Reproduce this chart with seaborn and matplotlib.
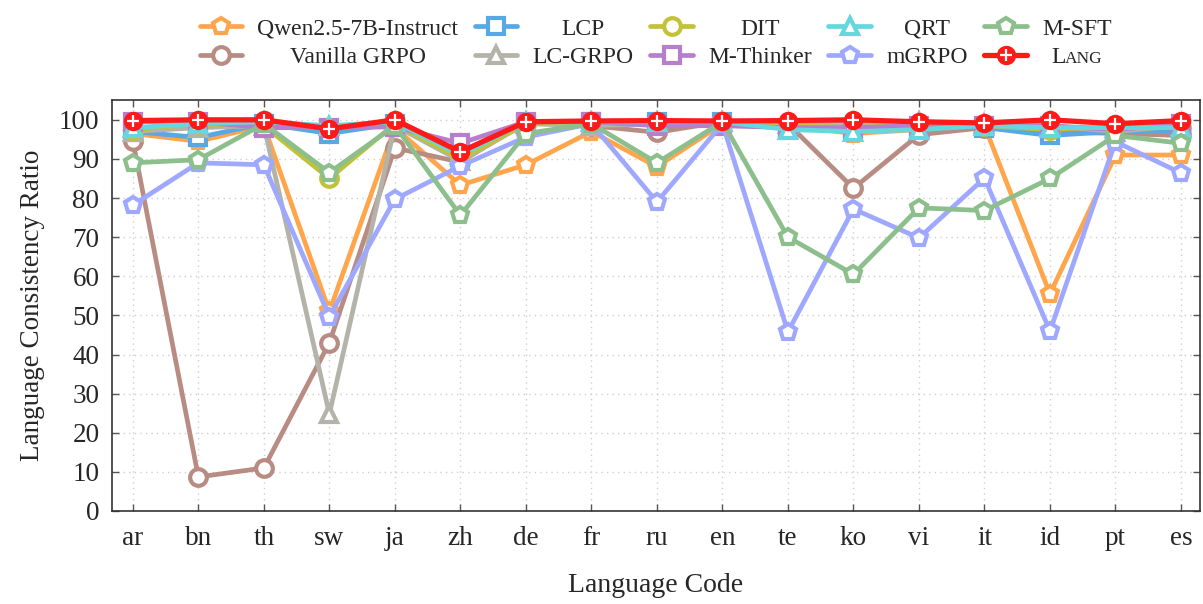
import numpy as np
import pandas as pd
import seaborn as sns
import matplotlib
matplotlib.use("Agg")
import matplotlib.pyplot as plt
from matplotlib.legend_handler import HandlerTuple

languages = ["ar", "bn", "th", "sw", "ja", "zh", "de", "fr", "ru", "en", "te", "ko", "vi", "it", "id", "pt", "es"]

qwen = [96.5, 94.5, 98.5, 51.0, 98.0, 83.3, 88.5, 97.0, 88.0, 99.0, 98.5, 96.5, 97.5, 98.5, 55.5, 91.0, 91.0]
vanilla_grpo = [94.6, 8.7, 11.0, 43.0, 92.8, 89.2, 99.5, 98.5, 96.8, 99.5, 99.0, 82.5, 96.2, 98.0, 97.0, 96.5, 96.0]
lcp = [97.0, 95.5, 99.0, 96.5, 99.0, 90.5, 99.0, 99.5, 99.5, 99.5, 98.0, 97.5, 98.0, 98.0, 96.0, 97.0, 97.0]
lc_grpo = [97.0, 98.0, 98.5, 24.8, 98.5, 89.5, 99.0, 98.5, 99.0, 99.5, 99.0, 99.0, 99.5, 99.0, 98.5, 97.0, 98.5]
dit = [97.5, 99.0, 98.5, 85.0, 99.0, 90.0, 99.0, 99.5, 99.0, 99.5, 98.5, 98.0, 99.0, 98.5, 97.5, 98.5, 98.0]
m_thinker = [99.5, 99.5, 98.0, 98.0, 98.2, 94.0, 99.5, 99.5, 98.5, 98.5, 98.0, 98.0, 98.5, 98.5, 98.5, 97.5, 99.0]
qrt = [98.0, 99.0, 99.5, 98.5, 99.5, 91.0, 99.5, 99.5, 99.5, 99.5, 97.5, 97.0, 97.5, 98.5, 98.0, 98.0, 98.0]
mgrpo = [78.2, 89.0, 88.5, 49.7, 79.7, 88.2, 95.6, 99.0, 79.0, 99.0, 45.8, 77.2, 69.8, 85.1, 46.0, 94.4, 86.4]
m_sft = [89.0, 89.8, 99.0, 86.5, 98.5, 75.6, 96.5, 99.0, 89.0, 99.5, 70.0, 60.5, 77.5, 76.8, 85.0, 96.0, 94.0]
lang = [99.8, 100.0, 100.0, 97.7, 100.0, 91.8, 99.5, 99.7, 99.8, 99.7, 99.8, 100.0, 99.5, 99.2, 100.0, 99.0, 99.8]

series_names = ["Qwen2.5-7B-Instruct", "Vanilla GRPO", "LCP", "LC-GRPO", "DIT",
                "M-Thinker", "QRT", "mGRPO", "M-SFT", "LANG"]
series_values = [qwen, vanilla_grpo, lcp, lc_grpo, dit, m_thinker, qrt, mgrpo, m_sft, lang]
colors = ["#ffa64d", "#b88c82", "#59a8e6", "#b3b3aa", "#c2c23a",
          "#b57fcc", "#66d6df", "#9fa8ff", "#8cbf8c", "#ff1a1a"]
markers = ["p", "o", "s", "^", "o", "s", "^", "p", "p", "o"]

sns.set_theme(style="ticks")
plt.rcParams["font.family"] = ["Liberation Serif", "DejaVu Serif"]

fig = plt.figure(figsize=(12.03, 6.04), dpi=100)
ax = fig.add_axes([0.093, 0.154, 0.9045, 0.68])

handles = []
for name, vals, col, mk in zip(series_names, series_values, colors, markers):
    df = pd.DataFrame({"lang": languages, "val": vals})
    if name == "LANG":
        sns.lineplot(data=df, x="lang", y="val", sort=False, ax=ax, color=col,
                     lw=3.8, marker="o", ms=14, mfc=col, mec=col, mew=0,
                     zorder=10, legend=False)
        l1 = ax.lines[-1]
        sns.lineplot(data=df, x="lang", y="val", sort=False, ax=ax, color="white",
                     lw=0, marker="+", ms=8.5, mew=1.6, zorder=11, legend=False)
        l2 = ax.lines[-1]
        handles.append((l1, l2))
    else:
        sns.lineplot(data=df, x="lang", y="val", sort=False, ax=ax, color=col,
                     lw=3.4, marker=mk, ms=12, mfc="white",
                     mec=col, mew=3.0, legend=False)
        handles.append(ax.lines[-1])

ax.set_xlim(-0.32, 16.29)
ax.set_ylim(0, 105)
ax.set_yticks(np.arange(0, 101, 10))
ax.grid(True, color="#cfcfcf", linestyle=(0, (1, 3)), linewidth=1.0)
ax.set_axisbelow(True)
ax.tick_params(axis="both", direction="in", length=5, width=1, color="#555555",
               labelsize=19.5, top=True, right=True, pad=9)
ax.tick_params(axis="x", pad=11)
for s in ax.spines.values():
    s.set_visible(True)
    s.set_color("#333333")
    s.set_linewidth(1.2)

ax.set_xlabel("Language Code", fontsize=20, labelpad=16)
ax.set_ylabel("Language Consistency Ratio", fontsize=19.5, labelpad=10)

leg = fig.legend(handles, series_names, loc="upper center", bbox_to_anchor=(0.545, 1.005),
                 ncol=5, frameon=False, fontsize=17, handlelength=1.8,
                 handletextpad=0.65, columnspacing=0.7, labelspacing=0.28,
                 handler_map={tuple: HandlerTuple(ndivide=1)})

# Center legend labels within their columns (as in the reference)
fig.canvas.draw()
renderer = fig.canvas.get_renderer()
inv = fig.transFigure.inverted()
texts = leg.get_texts()
boxes = [t.get_window_extent(renderer) for t in texts]
bases = [t.get_transform().transform(t.get_position())[1] for t in texts]
for col in range(5):
    idx = [2 * col, 2 * col + 1]
    left = min(boxes[i].x0 for i in idx)
    right = max(boxes[i].x1 for i in idx)
    cx = (left + right) / 2
    for i in idx:
        texts[i].set_visible(False)
        fx, fy = inv.transform((cx, bases[i]))
        if series_names[i] == "LANG":
            tL = fig.text(0, fy, "L", fontsize=17, va="baseline", ha="left")
            tA = fig.text(0, fy, "ANG", fontsize=12.5, va="baseline", ha="left")
            wL = tL.get_window_extent(renderer).width
            wA = tA.get_window_extent(renderer).width
            x0 = cx - (wL + wA) / 2
            tL.set_x(inv.transform((x0, 0))[0])
            tA.set_x(inv.transform((x0 + wL, 0))[0])
        else:
            fig.text(fx, fy, series_names[i], fontsize=17, va="baseline", ha="center")

fig.savefig("out.png", dpi=100)
